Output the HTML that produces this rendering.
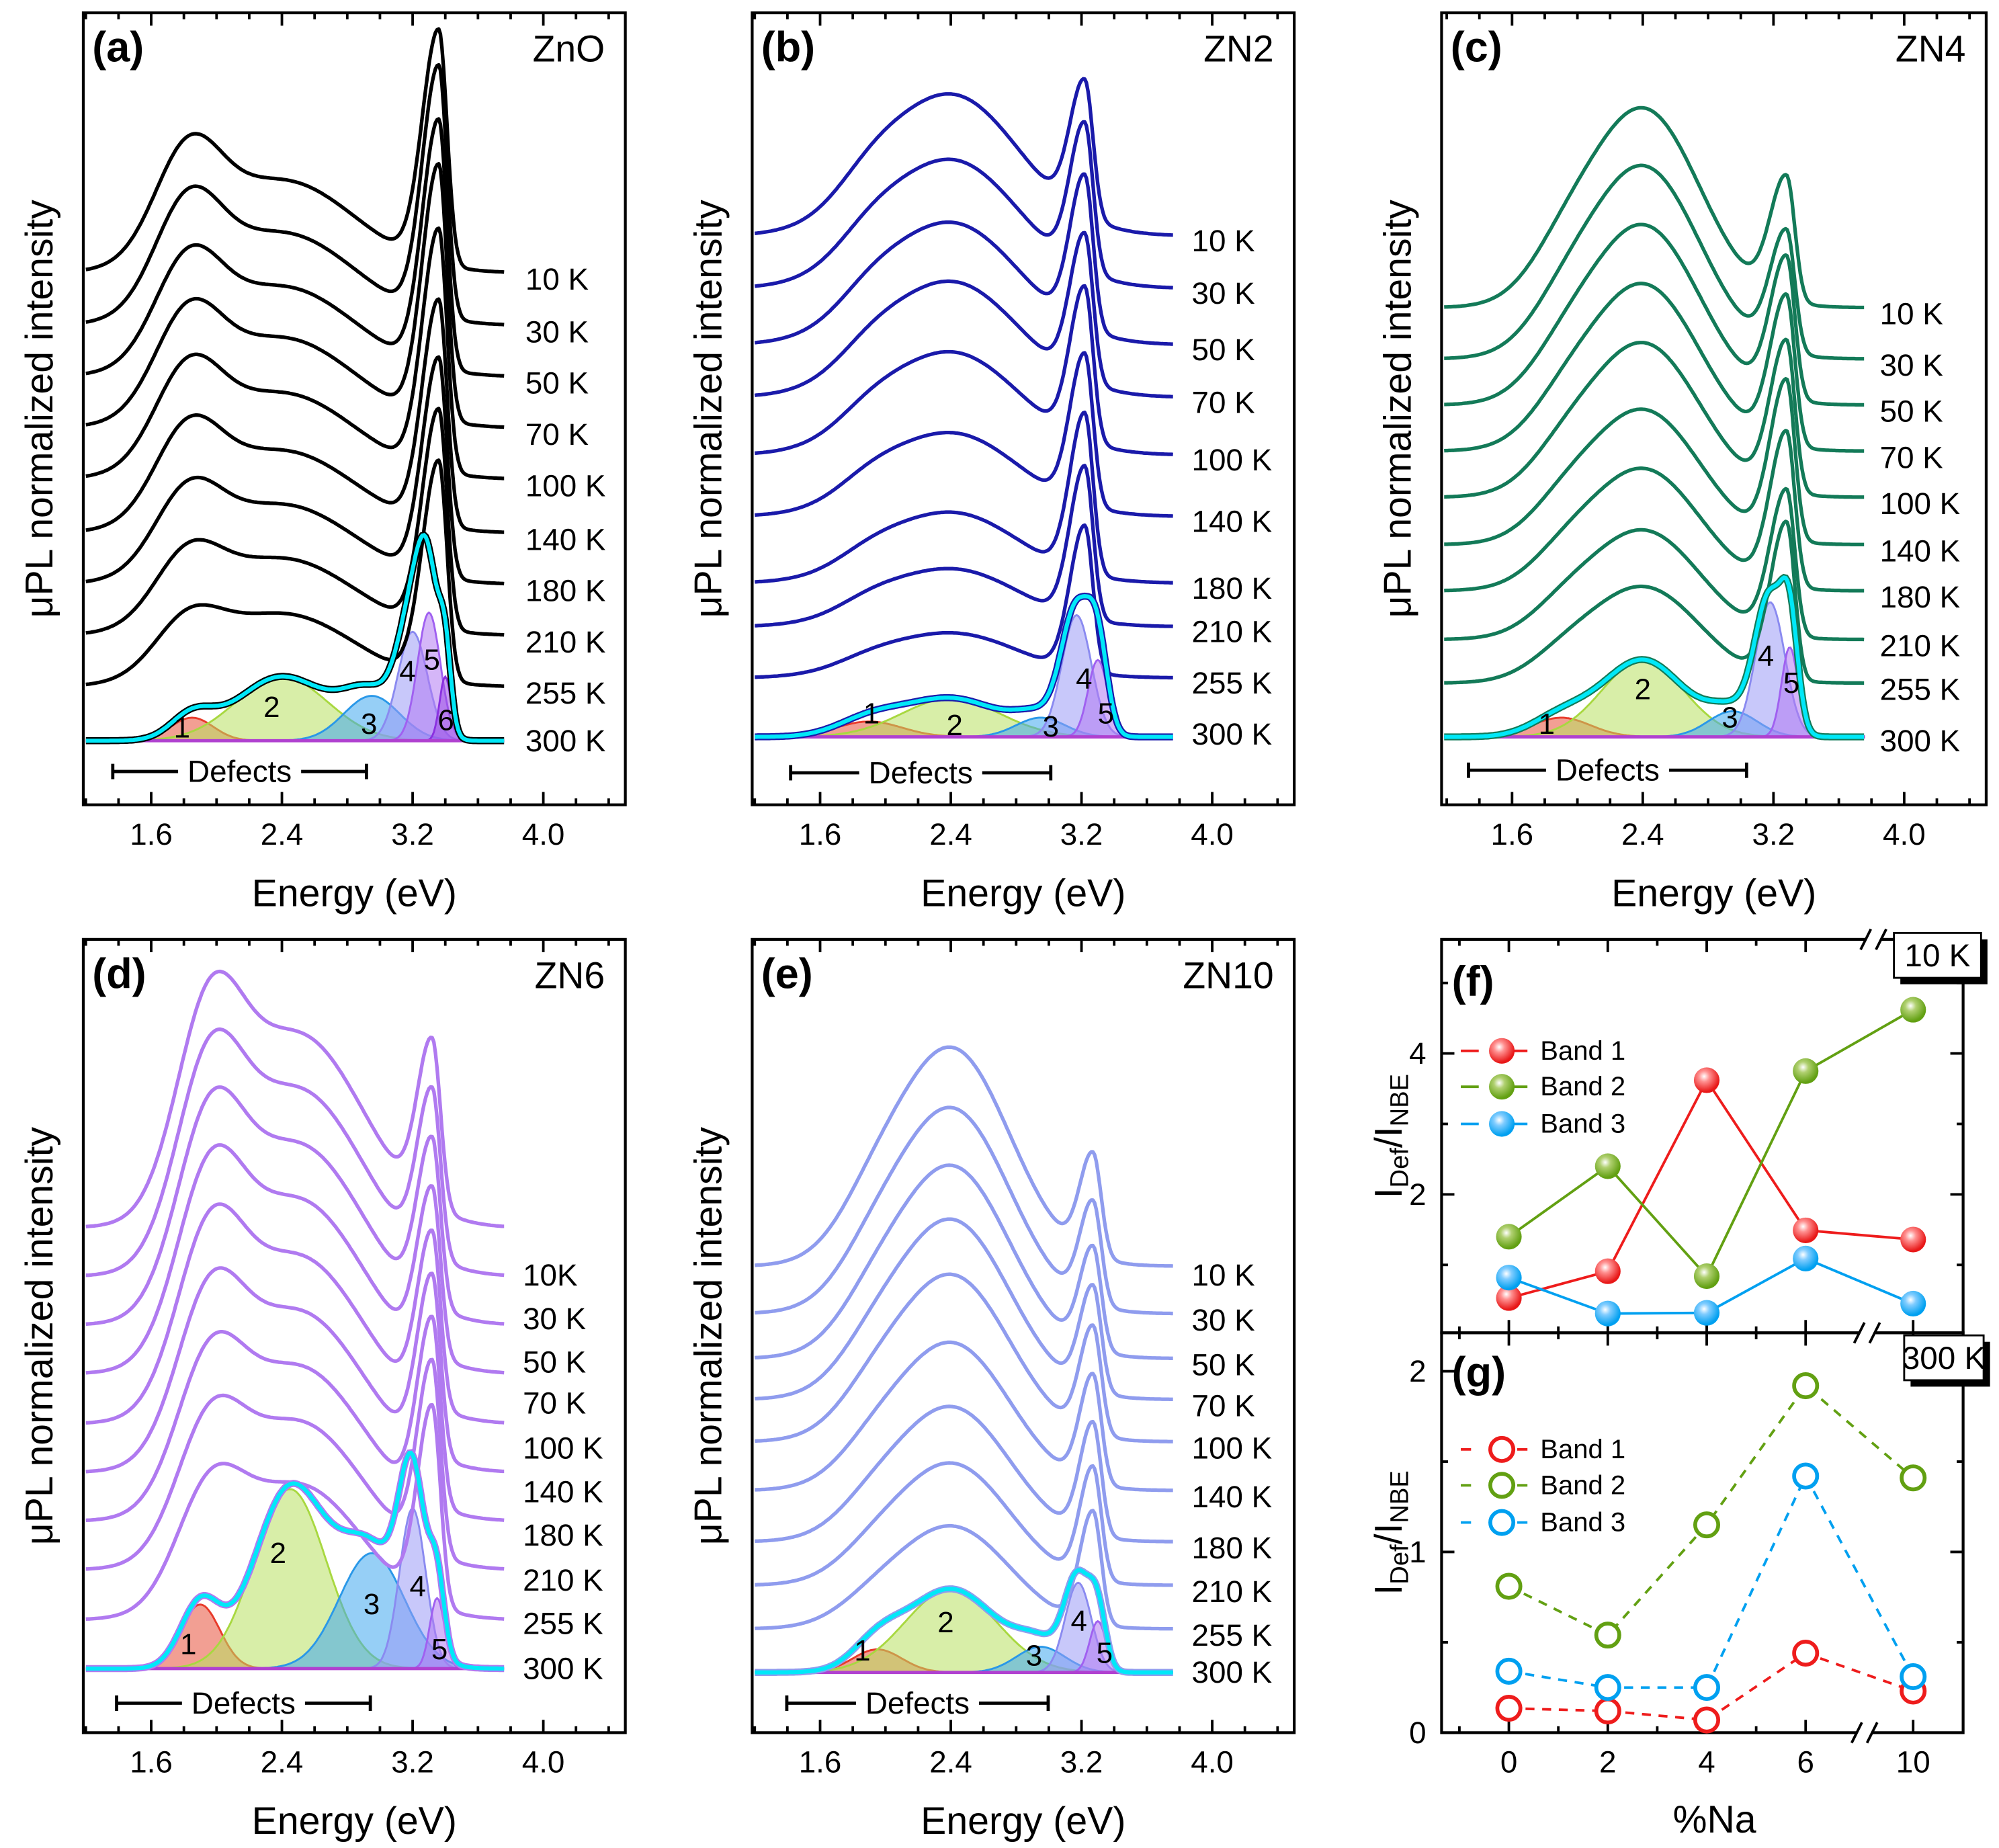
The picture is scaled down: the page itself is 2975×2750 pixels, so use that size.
<!DOCTYPE html>
<html><head><meta charset="utf-8">
<style>
html,body{margin:0;padding:0;background:#fff;}
svg{display:block;font-family:"Liberation Sans",Arial,sans-serif;}
</style></head>
<body>
<svg id="fig" width="2975" height="2750" viewBox="0 0 1560 1442" preserveAspectRatio="none" xmlns="http://www.w3.org/2000/svg">
<defs>
<radialGradient id="gR" cx="0.4" cy="0.35" r="0.6"><stop offset="0" stop-color="#fff"/><stop offset="0.35" stop-color="#ff9090"/><stop offset="1" stop-color="#e81818"/></radialGradient>
<radialGradient id="gG" cx="0.4" cy="0.35" r="0.6"><stop offset="0" stop-color="#fff"/><stop offset="0.35" stop-color="#b0d070"/><stop offset="1" stop-color="#62a012"/></radialGradient>
<radialGradient id="gB" cx="0.4" cy="0.35" r="0.6"><stop offset="0" stop-color="#fff"/><stop offset="0.35" stop-color="#80ccff"/><stop offset="1" stop-color="#00a0f0"/></radialGradient>
</defs>
<g id="root"></g>
</svg>
<script>
// ---------- spectra data (pixel amplitudes above each curve's baseline) ----------
const tempLabels = ['10 K','30 K','50 K','70 K','100 K','140 K','180 K','210 K','255 K','300 K'];
const tempLabelsD = ['10K','30 K','50 K','70 K','100 K','140 K','180 K','210 K','255 K','300 K'];

const aTails = [213,254,294,334,374,416,456,496,536];
const aD1 = [75,75,70,68,66,62,54,46,36];
const aD2 = [72,72,70,70,67,64,62,60,57];
const aNBE = [183,196,194,199,189,176,171,171,171];
const aCompCenter = [1.85,2.4,2.95,3.2,3.3,3.4];
const aCompAmp = [18,50,35,85,100,50];
const aCompSigma = [0.13,0.28,0.17,0.09,0.07,0.035];

const bTails = [184,225,269,310,355,403,455,489,529];
const bD1 = [15,14,13,12,11,10,8,7,5];
const bD2 = [110,100,95,90,80,65,55,45,35];
const bNBE = [106,115,119,115,120,118,125,119,114];
const bCompCenter = [1.9,2.4,2.95,3.17,3.3];
const bCompAmp = [12,30,15,95,60];
const bCompSigma = [0.2,0.3,0.15,0.09,0.06];

const cTails = [240,280,316,352,388,425,461,499,533];
const cD1 = [20,19,18,17,16,15,13,12,10];
const cD2 = [155,150,140,130,120,105,95,85,75];
const cNBE = [97,95,111,117,118,125,121,114,123];
const cCompCenter = [1.9,2.4,2.95,3.18,3.3];
const cCompAmp = [15,60,20,105,70];
const cCompSigma = [0.18,0.25,0.15,0.09,0.05];

const dTails = [958,996,1034,1072,1111,1149,1187,1225,1264];
const dD1 = [135,130,125,120,115,105,95,85,75];
const dD2 = [150,145,140,135,130,125,120,115,105];
const dNBE = [130,130,130,130,135,140,145,150,155];
const dCompCenter = [1.9,2.45,2.95,3.2,3.35];
const dCompAmp = [50,140,90,125,55];
const dCompSigma = [0.12,0.22,0.2,0.08,0.045];

const eTails = [988,1025,1060,1092,1125,1163,1203,1237,1271];
const eD1 = [20,18,17,16,15,13,12,10,8];
const eD2 = [170,160,150,140,130,115,105,95,80];
const eNBE = [80,80,80,82,84,85,88,88,88];
const eCompCenter = [1.95,2.4,2.95,3.18,3.3];
const eCompAmp = [18,65,20,70,40];
const eCompSigma = [0.15,0.28,0.15,0.08,0.05];

// ---------- ratio data (f: 10 K, g: 300 K) ----------
const naCategories = [0,2,4,6,10];
const naTickLabels = ['0','2','4','6','10'];
const fBand1 = [0.53,0.91,3.62,1.49,1.36];
const fBand2 = [1.4,2.4,0.84,3.75,4.62];
const fBand3 = [0.82,0.31,0.32,1.09,0.45];
const gBand1 = [0.135,0.12,0.07,0.44,0.23];
const gBand2 = [0.81,0.54,1.15,1.92,1.41];
const gBand3 = [0.34,0.25,0.25,1.42,0.31];
const fTicks = [2,4];
const gTicks = [0,1,2];
const eTicks = [1.6,2.4,3.2,4.0];

const NS='http://www.w3.org/2000/svg';
const root=document.getElementById('root');
function mk(tag,attrs,parent){const el=document.createElementNS(NS,tag);for(const k in attrs)el.setAttribute(k,attrs[k]);(parent||root).appendChild(el);return el;}
function txt(s,x,y,size,extra){const t=mk('text',Object.assign({x:x,y:y,'font-size':size,fill:'#000'},extra||{}));t.textContent=s;return t;}
function g(E,c,s){return Math.exp(-(E-c)*(E-c)/(2*s*s));}
function ag(E,c,sL,sR){const s=E<c?sL:sR;return Math.exp(-(E-c)*(E-c)/(2*s*s));}

const compColors=['#e8503a','#b8e060','#40a8ee','#9a9af5','#b27af2','#9a4ae6'];
const compStroke=['#e83a2a','#a8d840','#2a98e8','#8a8af0','#a060f0','#8a30e0'];

const panels=[
 {id:'a',x0:65,x1:488,y0:10,y1:628,x16:118,color:'#000000',lx:410,ly:[218,259,299,339,379,421,461,501,541,578],base:578,labels:tempLabels,name:'ZnO',tails:aTails,d1:aD1,d2:aD2,nbe:aNBE,c1:1.82,s1:0.2,c2:2.4,s2:0.45,cN:3.36,sL:0.1,sR:0.05,cc:aCompCenter,ca:aCompAmp,cs:aCompSigma,cl:[[142,568],[212,552],[288,565],[318,524],[337,515],[348,562]],def:[88,286,602]},
 {id:'b',x0:587,x1:1010,y0:10,y1:628,x16:640,color:'#1a1aaa',lx:930,ly:[188,229,273,314,359,407,459,493,533,573],base:575,labels:tempLabels,name:'ZN2',tails:bTails,d1:bD1,d2:bD2,nbe:bNBE,c1:1.9,s1:0.2,c2:2.4,s2:0.42,cN:3.22,sL:0.09,sR:0.05,cc:bCompCenter,ca:bCompAmp,cs:bCompSigma,cl:[[680,557],[745,566],[820,567],[846,530],[863,557]],def:[617,820,603]},
 {id:'c',x0:1125,x1:1550,y0:10,y1:628,x16:1180,color:'#137a58',lx:1467,ly:[245,285,321,357,393,430,466,504,538,578],base:575,labels:tempLabels,name:'ZN4',tails:cTails,d1:cD1,d2:cD2,nbe:cNBE,c1:1.9,s1:0.2,c2:2.4,s2:0.35,cN:3.28,sL:0.1,sR:0.05,cc:cCompCenter,ca:cCompAmp,cs:cCompSigma,cl:[[1207,565],[1282,538],[1350,560],[1378,512],[1398,533]],def:[1146,1363,601]},
 {id:'d',x0:65,x1:488,y0:733,y1:1352,x16:118,color:'#b07af0',lx:408,ly:[995,1029,1063,1095,1130,1164,1198,1233,1267,1302],base:1302,labels:tempLabelsD,name:'ZN6',tails:dTails,d1:dD1,d2:dD2,nbe:dNBE,c1:1.95,s1:0.2,c2:2.5,s2:0.4,cN:3.32,sL:0.09,sR:0.05,cc:dCompCenter,ca:dCompAmp,cs:dCompSigma,cl:[[147,1283],[217,1212],[290,1252],[326,1238],[343,1287]],def:[91,289,1329]},
 {id:'e',x0:587,x1:1010,y0:733,y1:1352,x16:640,color:'#8f9cee',lx:930,ly:[995,1030,1065,1097,1130,1168,1208,1242,1276,1305],base:1305,labels:tempLabels,name:'ZN10',tails:eTails,d1:eD1,d2:eD2,nbe:eNBE,c1:1.9,s1:0.2,c2:2.4,s2:0.36,cN:3.27,sL:0.08,sR:0.05,cc:eCompCenter,ca:eCompAmp,cs:eCompSigma,cl:[[673,1288],[738,1266],[807,1292],[842,1265],[862,1290]],def:[614,818,1329]}
];

panels.forEach(p=>{
  const X=E=>p.x16+(E-1.6)*127.5;
  const Emin=(p.x0+2-p.x16)/127.5+1.6, Emax=3.76;
  const gp=mk('g',{});
  
  
  const compSum=E=>{let s=0;for(let k=0;k<p.cc.length;k++)s+=p.ca[k]*g(E,p.cc[k],p.cs[k]);return s;};
  for(let k=0;k<p.cc.length;k++){
    let d='M'+X(Emin).toFixed(1)+','+p.base;
    for(let E=Emin;E<=Emax+1e-9;E+=0.01)d+='L'+X(E).toFixed(1)+','+(p.base-p.ca[k]*g(E,p.cc[k],p.cs[k])).toFixed(1);
    d+='L'+X(Emax).toFixed(1)+','+p.base+'Z';
    const c=mk('path',{d:d,fill:compColors[k],'fill-opacity':0.55,stroke:compStroke[k],'stroke-width':1.5},gp);
    
    
  }
  const bl=mk('line',{x1:X(Emin),x2:X(Emax),y1:p.base,y2:p.base,stroke:'#b040d0','stroke-width':2.5},gp);
  
  
  for(let i=0;i<p.tails.length;i++){
    let d='';
    for(let E=Emin;E<=Emax+1e-9;E+=0.01){
      const y=p.tails[i]-(p.d1[i]*g(E,p.c1,p.s1)+p.d2[i]*g(E,p.c2,p.s2)+p.nbe[i]*ag(E,p.cN,p.sL,p.sR));
      d+=(d?'L':'M')+X(E).toFixed(1)+','+y.toFixed(1);
    }
    const c=mk('path',{d:d,fill:'none',stroke:p.color,'stroke-width':2.8,'stroke-linejoin':'round'},gp);
    
    
  }
  let d='';
  for(let E=Emin;E<=Emax+1e-9;E+=0.01)d+=(d?'L':'M')+X(E).toFixed(1)+','+(p.base-compSum(E)).toFixed(1);
  const s3=mk('path',{d:d,fill:'none',stroke:p.color,'stroke-width':5.5},gp);
  
  
  const fit=mk('path',{d:d,fill:'none',stroke:'#00e8f8','stroke-width':3.2},gp);
  
  
  p.cl.forEach((q,k)=>{const t=txt(String(k+1),q[0],q[1],23,{'text-anchor':'middle','dominant-baseline':'central'});
    
    });
  p.ly.forEach((y,i)=>{const t=txt(p.labels[i],p.lx,y,24,{'dominant-baseline':'central'});
    
    });
  const fr=mk('rect',{x:p.x0,y:p.y0,width:p.x1-p.x0,height:p.y1-p.y0,fill:'none',stroke:'#000','stroke-width':2.2});
  
  
  for(let E=1.2;E<=4.41;E+=0.2){
    const xx=X(E); if(xx<p.x0+1||xx>p.x1-1)continue;
    const major=Math.abs((E-1.6)/0.8-Math.round((E-1.6)/0.8))<0.01;
    const L=major?10:5;
    const t1=mk('line',{x1:xx,x2:xx,y1:p.y1,y2:p.y1-L,stroke:'#000','stroke-width':2});
    
    
    const t2=mk('line',{x1:xx,x2:xx,y1:p.y0,y2:p.y0+L,stroke:'#000','stroke-width':2});
    
    
  }
  eTicks.forEach(E=>{const t=txt(E.toFixed(1),X(E),p.y1+31,24,{'text-anchor':'middle'});
    
    });
  const xt=txt('Energy (eV)',(p.x0+p.x1)/2,p.y1+79,30,{'text-anchor':'middle'});
  
  
  const yx=p.x0-34, yy=(p.y0+p.y1)/2;
  const yt=txt('\u03bcPL normalized intensity',yx,yy,30,{'text-anchor':'middle',transform:'rotate(-90 '+yx+' '+yy+')','dominant-baseline':'central'});
  
  
  const pl=txt('('+p.id+')',p.x0+7,p.y0+38,33,{'font-weight':'bold'});
  
  
  const sn=txt(p.name,p.x1-16,p.y0+38,29,{'text-anchor':'end'});
  
  
  const [dx0,dx1,dy]=p.def, dm=(dx0+dx1)/2;
  const dl=mk('path',{d:'M'+dx0+','+(dy-6)+'V'+(dy+6)+'M'+dx0+','+dy+'H'+(dm-48)+'M'+(dm+48)+','+dy+'H'+dx1+'M'+dx1+','+(dy-6)+'V'+(dy+6),stroke:'#000','stroke-width':2.5,fill:'none'});
  
  
  const dt=txt('Defects',dm,dy,24,{'text-anchor':'middle','dominant-baseline':'central'});
  
  
});

// ---------- panels f and g ----------
const FX0=1125,FX1=1532;
function xNa(v){return v<=6?1177.5+v*38.6:1493;}
const fP={y0:733,y1:1040,zero:1042,per:55,ticks:fTicks,minor:[1,3,5],letter:'(f)',box:'10 K',bands:[fBand1,fBand2,fBand3],filled:true,leg:[820,848,877],lx0:1140};
const gP={y0:1040,y1:1352,zero:1352,per:141,ticks:gTicks,minor:[0.5,1.5],letter:'(g)',box:'300 K',bands:[gBand1,gBand2,gBand3],filled:false,leg:[1131,1159,1188],lx0:1140};
const bandCol=['#ee1c1c','#62a012','#00a0f0'];
const grads=['url(#gR)','url(#gG)','url(#gB)'];
[fP,gP].forEach((q,qi)=>{
  const Y=v=>q.zero-v*q.per;
  const fr=mk('rect',{x:FX0,y:q.y0,width:FX1-FX0,height:q.y1-q.y0,fill:'none',stroke:'#000','stroke-width':2.2});
  
  
  q.ticks.forEach(v=>{
    [[FX0,FX0+10],[FX1,FX1-10]].forEach(s=>{const l=mk('line',{x1:s[0],x2:s[1],y1:Y(v),y2:Y(v),stroke:'#000','stroke-width':2});
      
      });
    const t=txt(String(v),FX0-12,Y(v),24,{'text-anchor':'end','dominant-baseline':'central'});
    
    
  });
  q.minor.forEach(v=>{[[FX0,FX0+5],[FX1,FX1-5]].forEach(s=>{const l=mk('line',{x1:s[0],x2:s[1],y1:Y(v),y2:Y(v),stroke:'#000','stroke-width':2});
    
    });});
  naCategories.forEach(v=>{[[q.y1,q.y1-10],[q.y0,q.y0+10]].forEach(s=>{const l=mk('line',{x1:xNa(v),x2:xNa(v),y1:s[0],y2:s[1],stroke:'#000','stroke-width':2});
    
    });});
  [-1,1,3,5].forEach(v=>{[[q.y1,q.y1-5],[q.y0,q.y0+5]].forEach(s=>{const l=mk('line',{x1:xNa(v),x2:xNa(v),y1:s[0],y2:s[1],stroke:'#000','stroke-width':2});
    
    });});
  q.bands.forEach((arr,b)=>{
    const pts=arr.map((v,i)=>xNa(naCategories[i]).toFixed(1)+','+Y(v).toFixed(1)).join(' ');
    const pl=mk('polyline',{points:pts,fill:'none',stroke:bandCol[b],'stroke-width':2,'stroke-dasharray':q.filled?'none':'7,6'});
    
    
    arr.forEach((v,i)=>{
      const c=mk('circle',q.filled?{cx:xNa(naCategories[i]),cy:Y(v),r:10,fill:grads[b]}:{cx:xNa(naCategories[i]),cy:Y(v),r:9,fill:'#fff',stroke:bandCol[b],'stroke-width':3});
      
      
    });
    const ly=q.leg[b];
    const ll=mk('line',{x1:q.lx0,x2:q.lx0+64,y1:ly,y2:ly,stroke:bandCol[b],'stroke-width':2,'stroke-dasharray':q.filled?'14,24':'8,36'});
    
    
    const lc=mk('circle',q.filled?{cx:q.lx0+32,cy:ly,r:10,fill:grads[b]}:{cx:q.lx0+32,cy:ly,r:9,fill:'#fff',stroke:bandCol[b],'stroke-width':3});
    
    
    const lt=txt('Band '+(b+1),q.lx0+62,ly,21,{'dominant-baseline':'central'});
    
    
  });
  const pl=txt(q.letter,1133,q.y0+(qi?42:44),33,{'font-weight':'bold'});
  
  
  const bx=qi?1486:1478, bw=qi?62:68, by=q.y0+(qi?2:-5);
  const sh=mk('rect',{x:bx+5,y:by+5,width:bw,height:35,fill:'#000'});
  
  
  const br=mk('rect',{x:bx,y:by,width:bw,height:35,fill:'#fff',stroke:'#000','stroke-width':1.5});
  
  
  const bt=txt(q.box,bx+bw/2,by+18,25,{'text-anchor':'middle','dominant-baseline':'central'});
  
  
  const yx=1084, yy=(q.y0+q.y1)/2;
  const yt=mk('text',{x:yx,y:yy,'font-size':30,'text-anchor':'middle','dominant-baseline':'central',transform:'rotate(-90 '+yx+' '+yy+')'});
  yt.innerHTML='I<tspan font-size="20" dy="8">Def</tspan><tspan dy="-8">/I</tspan><tspan font-size="20" dy="8">NBE</tspan>';
  
  
});
[[1462,733],[1457,1040],[1455,1352]].forEach(b=>{
  const w=mk('rect',{x:b[0]-6,y:b[1]-4,width:12,height:8,fill:'#fff'});
  
  
  const m=mk('path',{d:'M'+(b[0]-10)+','+(b[1]+8)+'L'+(b[0]-2)+','+(b[1]-8)+'M'+(b[0]+2)+','+(b[1]+8)+'L'+(b[0]+10)+','+(b[1]-8),stroke:'#000','stroke-width':2});
  
  
});
naCategories.forEach((v,i)=>{const t=txt(naTickLabels[i],xNa(v),1383,24,{'text-anchor':'middle'});
  
  });
const nx=txt('%Na',1338,1430,30,{'text-anchor':'middle'});


</script>
</body></html>
